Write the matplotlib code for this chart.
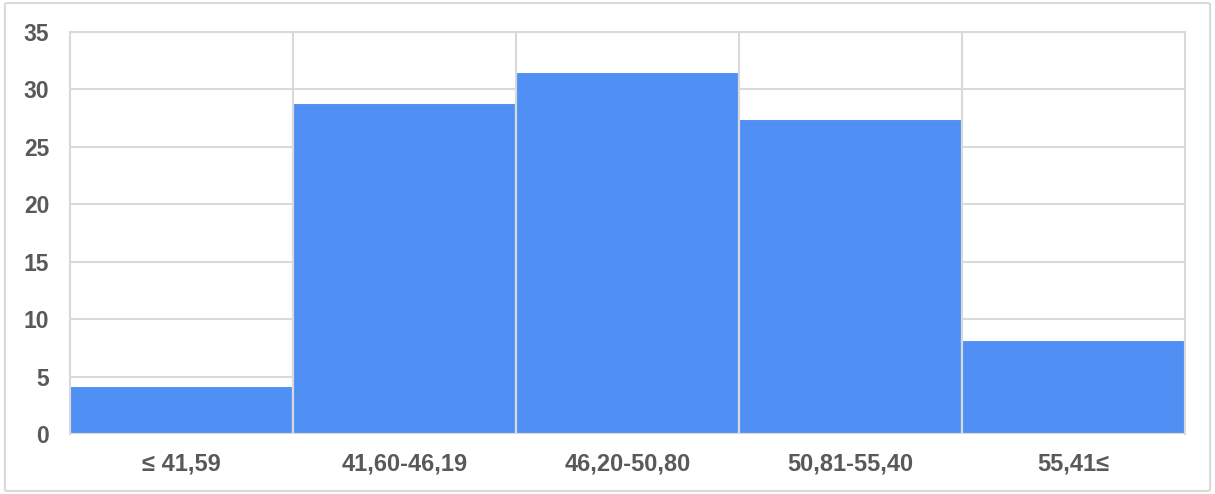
import matplotlib.pyplot as plt
from matplotlib.patches import FancyBboxPatch

categories = ["≤ 41,59", "41,60-46,19", "46,20-50,80", "50,81-55,40", "55,41≤"]
values = [4.2, 28.8, 31.5, 27.4, 8.2]
yticks = [0, 5, 10, 15, 20, 25, 30, 35]

bar_color = "#508FF3"
grid_color = "#D9D9D9"
text_color = "#595959"

plt.rcParams["font.family"] = ["Liberation Sans", "DejaVu Sans"]

fig = plt.figure(figsize=(12.15, 4.94), dpi=100)
ax = fig.add_axes([0.0576, 0.1215, 0.9177, 0.8137])

x = list(range(len(categories)))
ax.bar(x, values, width=1.0, color=bar_color, edgecolor="white",
       linewidth=1.5, zorder=2)

ax.set_xlim(-0.5, len(categories) - 0.5)
ax.set_ylim(0, 35)
ax.set_yticks(yticks)
ax.set_xticks(x)
ax.set_xticklabels(categories)

# horizontal grid behind bars, vertical separators on top
for yv in yticks:
    ax.axhline(yv, color=grid_color, linewidth=1.5, zorder=1)
for b in range(1, len(categories)):
    ax.axvline(b - 0.5, color=grid_color, linewidth=1.5, zorder=3)

for s in ax.spines.values():
    s.set_color(grid_color)
    s.set_linewidth(1.5)
ax.spines["bottom"].set_visible(False)
ax.axhline(0, color=grid_color, linewidth=1.5, zorder=3)

ax.tick_params(axis="y", length=0, labelsize=16.5, labelcolor=text_color, pad=15)
ax.tick_params(axis="x", length=0, labelsize=17, labelcolor=text_color, pad=13)
for lbl in ax.get_xticklabels() + ax.get_yticklabels():
    lbl.set_fontweight("bold")

# figure border
fig.patches.append(FancyBboxPatch((0.004, 0.006), 0.992, 0.988,
                                  boxstyle="round,pad=0,rounding_size=0.003",
                                  transform=fig.transFigure, fill=False,
                                  edgecolor=grid_color, linewidth=1.5))

fig.savefig("out.png", dpi=100)
